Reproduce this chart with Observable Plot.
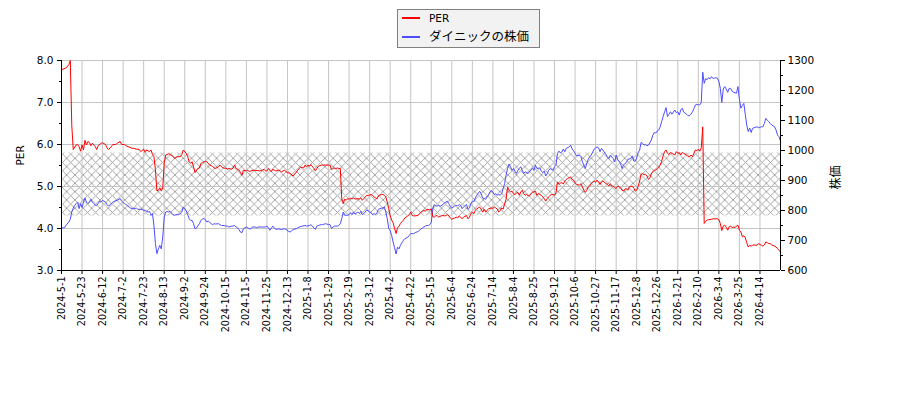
<!DOCTYPE html>
<html><head><meta charset="utf-8">
<script src="https://cdn.jsdelivr.net/npm/d3@7"></script>
<script src="https://cdn.jsdelivr.net/npm/@observablehq/plot@0.6"></script>
<style>
body{margin:0;background:#fff;}
#wrap{position:relative;width:900px;height:400px;font-family:'DejaVu Sans','Noto Sans CJK JP',sans-serif;}
#legend{position:absolute;left:397px;top:9px;width:143px;height:39px;box-sizing:border-box;border:1px solid #808080;background:#f2f2f2;}
#legend .sw{position:absolute;left:4px;width:18px;height:2px;}
#legend .tx{position:absolute;left:31px;height:16px;line-height:16px;white-space:nowrap;color:#000;}
</style></head>
<body><div id="wrap"></div>
<script>
// [trading-day index, value]
const perPoints = [[0,7.78],[3,7.82],[5,7.90],[6,8.00],[7,6.46],[8,5.88],[10,5.99],[11,6.00],[12,5.95],[13,5.84],[14,5.99],[15,5.87],[16,6.10],[17,5.99],[18,6.07],[19,6.05],[20,5.97],[21,6.03],[23,5.95],[24,5.88],[25,5.97],[27,6.03],[28,6.04],[30,6.00],[31,5.92],[32,5.88],[34,5.95],[35,6.00],[37,6.00],[38,6.03],[40,6.07],[41,6.00],[43,6.00],[44,5.97],[46,5.94],[48,5.91],[49,5.91],[51,5.89],[53,5.88],[54,5.83],[56,5.89],[57,5.81],[58,5.87],[60,5.83],[61,5.87],[62,5.76],[63,5.71],[64,5.40],[65,4.90],[66,4.91],[67,4.97],[68,4.89],[69,4.97],[70,5.55],[71,5.75],[73,5.78],[74,5.76],[76,5.72],[77,5.67],[79,5.71],[81,5.71],[82,5.76],[83,5.87],[85,5.79],[86,5.71],[87,5.59],[88,5.55],[89,5.59],[90,5.47],[91,5.33],[93,5.43],[94,5.44],[95,5.55],[96,5.57],[98,5.60],[99,5.59],[101,5.51],[103,5.48],[104,5.44],[105,5.43],[107,5.47],[108,5.51],[109,5.47],[111,5.43],[112,5.44],[113,5.41],[114,5.43],[116,5.41],[117,5.44],[118,5.51],[119,5.43],[121,5.39],[122,5.33],[123,5.27],[124,5.39],[126,5.37],[127,5.39],[128,5.35],[129,5.37],[131,5.39],[132,5.38],[134,5.38],[135,5.37],[137,5.39],[138,5.41],[139,5.37],[140,5.37],[141,5.43],[143,5.35],[144,5.41],[145,5.39],[146,5.37],[148,5.39],[149,5.37],[150,5.35],[152,5.39],[153,5.35],[154,5.33],[156,5.31],[157,5.27],[158,5.25],[159,5.31],[160,5.33],[161,5.39],[162,5.43],[163,5.46],[165,5.44],[166,5.51],[167,5.47],[168,5.51],[169,5.48],[170,5.52],[172,5.43],[173,5.37],[174,5.43],[175,5.48],[177,5.51],[178,5.51],[180,5.51],[182,5.51],[183,5.51],[184,5.40],[185,5.43],[186,5.44],[187,5.43],[188,5.44],[189,5.43],[190,5.43],[191,4.71],[192,4.59],[193,4.70],[194,4.67],[195,4.71],[196,4.70],[197,4.72],[198,4.70],[199,4.73],[200,4.70],[202,4.71],[203,4.70],[204,4.73],[205,4.67],[206,4.71],[207,4.75],[208,4.79],[209,4.78],[211,4.81],[212,4.79],[213,4.75],[214,4.73],[215,4.70],[216,4.78],[218,4.81],[219,4.81],[220,4.79],[221,4.75],[222,4.63],[223,4.47],[224,4.31],[225,4.20],[226,4.14],[227,4.00],[228,3.88],[229,4.02],[230,4.05],[231,4.12],[232,4.16],[233,4.20],[234,4.25],[236,4.30],[237,4.33],[238,4.39],[239,4.31],[240,4.30],[241,4.30],[243,4.31],[244,4.35],[245,4.39],[246,4.41],[247,4.43],[248,4.41],[249,4.46],[251,4.44],[252,4.47],[253,4.28],[254,4.27],[255,4.30],[256,4.31],[257,4.27],[258,4.29],[260,4.31],[261,4.30],[262,4.31],[263,4.33],[264,4.30],[265,4.25],[266,4.22],[268,4.25],[269,4.27],[270,4.25],[271,4.30],[272,4.27],[273,4.23],[274,4.27],[276,4.31],[277,4.23],[278,4.27],[279,4.35],[280,4.39],[281,4.35],[282,4.43],[283,4.47],[285,4.51],[286,4.46],[287,4.39],[288,4.46],[289,4.39],[290,4.43],[291,4.47],[293,4.49],[294,4.48],[295,4.51],[296,4.49],[297,4.46],[298,4.39],[299,4.43],[300,4.49],[301,4.46],[302,4.59],[303,4.70],[304,4.99],[305,4.91],[306,4.87],[307,4.89],[308,4.83],[309,4.81],[310,4.84],[311,4.86],[312,4.79],[313,4.87],[314,4.91],[315,4.83],[316,4.79],[317,4.81],[318,4.78],[319,4.78],[320,4.83],[321,4.86],[322,4.87],[323,4.89],[324,4.79],[325,4.83],[326,4.81],[327,4.79],[328,4.75],[329,4.71],[330,4.65],[331,4.71],[332,4.75],[333,4.79],[334,4.81],[335,4.81],[336,4.79],[337,4.85],[338,5.11],[339,5.05],[340,5.08],[341,5.09],[342,5.06],[343,5.13],[344,5.17],[345,5.19],[346,5.21],[347,5.23],[348,5.17],[349,5.15],[350,5.09],[351,5.05],[352,5.04],[353,5.03],[354,5.07],[355,4.99],[356,4.91],[357,4.86],[358,4.91],[359,4.99],[360,5.01],[361,5.07],[362,5.10],[363,5.13],[364,5.10],[365,5.15],[366,5.11],[367,5.05],[368,5.11],[369,5.13],[371,5.07],[372,5.05],[373,5.01],[374,5.07],[375,5.01],[376,5.01],[377,4.97],[378,4.95],[379,5.01],[381,4.97],[382,4.91],[383,4.89],[384,4.94],[385,4.95],[386,4.91],[387,4.99],[388,5.00],[389,5.01],[390,4.96],[391,4.89],[392,4.91],[393,5.01],[394,5.13],[395,5.29],[396,5.31],[397,5.28],[398,5.29],[399,5.25],[400,5.17],[401,5.21],[402,5.30],[403,5.35],[404,5.39],[405,5.39],[406,5.43],[407,5.45],[408,5.51],[409,5.60],[410,5.73],[411,5.83],[412,5.87],[413,5.79],[414,5.76],[415,5.81],[416,5.79],[418,5.75],[419,5.83],[420,5.79],[421,5.81],[422,5.75],[423,5.81],[424,5.79],[426,5.75],[427,5.71],[428,5.71],[429,5.75],[430,5.71],[431,5.79],[432,5.87],[433,5.85],[434,5.89],[435,5.84],[436,5.92],[437,6.42],[438,4.12],[439,4.17],[440,4.20],[441,4.21],[443,4.22],[444,4.23],[446,4.23],[447,4.23],[448,4.21],[449,4.12],[450,3.95],[451,4.06],[452,4.08],[453,4.03],[454,3.96],[455,4.04],[456,4.06],[457,4.02],[458,4.04],[459,4.02],[460,4.06],[461,4.08],[462,3.96],[463,3.92],[464,3.80],[465,3.83],[466,3.78],[467,3.66],[468,3.56],[469,3.60],[470,3.58],[471,3.60],[472,3.61],[474,3.60],[475,3.64],[477,3.60],[478,3.58],[479,3.61],[480,3.68],[481,3.66],[482,3.64],[483,3.64],[484,3.61],[486,3.58],[487,3.56],[488,3.52],[489,3.48],[490,3.44]];

const pricePoints = [[0,742],[2,742],[3,750],[5,762],[6,771],[7,795],[8,808],[9,817],[10,823],[11,828],[12,806],[13,823],[14,810],[15,828],[16,842],[17,828],[18,823],[19,828],[20,837],[21,828],[22,823],[23,817],[24,817],[25,823],[26,831],[27,828],[28,834],[30,828],[31,820],[32,815],[34,823],[35,828],[36,831],[38,834],[40,840],[41,831],[43,823],[44,820],[46,812],[47,808],[49,806],[51,808],[52,804],[54,804],[56,801],[57,801],[59,795],[60,797],[61,784],[62,790],[63,750],[64,690],[65,656],[66,672],[67,684],[68,672],[69,712],[70,778],[71,795],[72,797],[73,795],[74,797],[76,786],[77,784],[78,786],[80,786],[82,795],[83,812],[85,800],[86,786],[87,773],[88,767],[89,767],[90,756],[91,739],[92,742],[94,756],[95,767],[96,771],[97,773],[98,770],[99,762],[100,765],[102,756],[103,753],[104,756],[105,755],[107,756],[108,753],[109,750],[111,750],[112,748],[113,748],[114,745],[116,748],[117,748],[118,750],[119,745],[120,742],[121,736],[122,728],[123,726],[124,740],[125,742],[126,745],[128,739],[129,739],[130,745],[132,745],[133,742],[134,745],[136,745],[137,745],[139,745],[140,748],[141,742],[142,734],[144,748],[145,742],[146,737],[148,739],[149,737],[150,737],[152,739],[153,737],[155,730],[156,728],[157,734],[158,737],[160,739],[161,742],[162,745],[164,748],[166,750],[167,748],[169,750],[170,753],[172,742],[173,737],[174,748],[175,750],[177,753],[178,753],[180,756],[182,753],[183,753],[184,740],[185,745],[186,748],[188,748],[189,750],[190,756],[191,773],[192,795],[193,784],[194,784],[195,784],[196,786],[197,793],[198,786],[199,795],[200,788],[202,795],[203,790],[204,797],[205,786],[206,790],[207,795],[208,802],[210,795],[211,793],[212,786],[213,790],[214,786],[215,793],[216,804],[218,808],[219,808],[220,812],[221,795],[222,773],[223,740],[224,733],[225,717],[226,695],[227,676],[228,655],[229,678],[230,672],[231,684],[232,693],[233,700],[234,706],[236,711],[237,717],[238,723],[239,723],[240,723],[241,726],[243,730],[244,734],[245,739],[246,742],[247,745],[248,748],[249,750],[250,750],[251,753],[252,760],[253,805],[254,820],[255,815],[256,815],[257,817],[258,814],[260,820],[261,826],[262,828],[263,831],[264,823],[265,812],[266,808],[268,815],[269,817],[270,815],[271,820],[272,817],[273,806],[274,812],[276,820],[277,804],[278,808],[279,823],[280,831],[281,829],[282,842],[283,851],[285,864],[286,856],[287,842],[288,840],[289,837],[290,845],[291,851],[292,862],[293,866],[294,862],[295,853],[296,856],[297,851],[298,853],[299,851],[300,856],[301,873],[302,890],[303,918],[304,940],[305,955],[306,946],[307,934],[308,940],[310,923],[311,934],[312,940],[313,946],[314,934],[315,923],[316,929],[318,923],[319,931],[320,934],[321,942],[322,934],[323,951],[324,940],[326,942],[327,931],[328,927],[329,931],[330,915],[331,923],[332,934],[333,940],[335,934],[336,946],[337,951],[338,990],[339,998],[340,992],[341,995],[342,1005],[343,996],[344,1007],[346,1012],[347,1018],[348,1005],[349,999],[350,991],[351,982],[353,984],[354,979],[355,962],[356,951],[357,940],[358,957],[359,971],[360,979],[361,985],[363,1005],[364,1009],[365,1012],[366,1009],[367,996],[368,1007],[369,1001],[371,987],[372,979],[373,973],[374,984],[376,973],[377,962],[378,985],[379,970],[381,957],[382,940],[383,951],[384,957],[385,960],[386,971],[388,973],[389,982],[390,965],[391,964],[392,975],[393,993],[394,1001],[395,1027],[396,1024],[397,1018],[398,1020],[399,1016],[400,1018],[402,1035],[403,1051],[404,1060],[405,1058],[406,1065],[407,1068],[408,1079],[409,1096],[410,1113],[411,1129],[412,1143],[413,1113],[414,1121],[415,1129],[416,1121],[418,1135],[419,1126],[420,1129],[421,1118],[422,1135],[423,1141],[424,1128],[426,1121],[427,1116],[428,1116],[429,1121],[430,1129],[431,1140],[432,1152],[433,1154],[434,1152],[435,1152],[436,1160],[437,1261],[438,1224],[439,1240],[440,1236],[441,1243],[442,1239],[443,1246],[444,1240],[445,1241],[446,1243],[447,1241],[448,1230],[449,1207],[450,1160],[451,1205],[452,1213],[453,1205],[454,1194],[455,1207],[456,1207],[457,1198],[458,1194],[460,1191],[461,1213],[462,1170],[463,1141],[464,1150],[465,1157],[466,1120],[467,1085],[468,1063],[469,1075],[470,1060],[471,1074],[472,1076],[474,1079],[475,1076],[477,1079],[478,1079],[479,1090],[480,1107],[481,1101],[482,1096],[483,1090],[484,1085],[486,1079],[487,1068],[488,1051],[489,1046],[490,1031]];

const tickDays = [0,14,28,42,56,70,84,98,112,126,140,154,168,182,196,210,224,238,252,266,280,294,308,322,336,350,364,378,392,406,420,434,448,462,476];
const tickLabels = ["2024-5-1","2024-5-23","2024-6-12","2024-7-2","2024-7-23","2024-8-13","2024-9-2","2024-9-24","2024-10-15","2024-11-5","2024-11-25","2024-12-13","2025-1-8","2025-1-29","2025-2-19","2025-3-12","2025-4-2","2025-4-22","2025-5-15","2025-6-4","2025-6-24","2025-7-14","2025-8-4","2025-8-25","2025-9-12","2025-10-6","2025-10-27","2025-11-17","2025-12-8","2025-12-26","2026-1-21","2026-2-10","2026-3-4","2026-3-25","2026-4-14"];
const perTicks = [3,4,5,6,7,8];
const perMinorTicks = [3.5,4.5,5.5,6.5,7.5];
const priceTicks = [600,700,800,900,1000,1100,1200,1300];
const priceMinorTicks = [650,750,850,950,1050,1150,1250];
const bandRange = [4.3, 5.8];
const seriesNames = ["PER", "ダイニックの株価"];
const seriesColors = ["#ff0000", "#4d4dff"];

const perDomain = [3, 8];
const priceDomain = [600, 1300];
const toY = p => perDomain[0] + (p - priceDomain[0]) * (perDomain[1] - perDomain[0]) / (priceDomain[1] - priceDomain[0]);
const fromY = y => priceDomain[0] + (y - perDomain[0]) * (priceDomain[1] - priceDomain[0]) / (perDomain[1] - perDomain[0]);

const perData = perPoints.map(([i, v]) => ({i, v}));
const priceData = pricePoints.map(([i, v]) => ({i, v}));
const xDomain = [perPoints[0][0], perPoints[perPoints.length - 1][0]];
const labelOf = new Map(tickDays.map((d, k) => [d, tickLabels[k]]));
const bandData = xDomain.map(i => ({i}));

const font = "'DejaVu Sans','Noto Sans CJK JP',sans-serif";
const chart = Plot.plot({
  width: 900, height: 400,
  marginLeft: 61, marginRight: 120, marginTop: 60, marginBottom: 130,
  style: {fontFamily: font, fontSize: "10.5px", background: "white", color: "#000", overflow: "visible"},
  x: {type: "linear", domain: xDomain},
  y: {domain: perDomain},
  marks: [
    Plot.areaY(bandData, {x: "i", y1: bandRange[0], y2: bandRange[1], fill: "url(#xhatch)"}),
    Plot.gridX(tickDays, {stroke: "#c4c4c4", strokeOpacity: 1, strokeWidth: 1}),
    Plot.gridY(perTicks, {stroke: "#c4c4c4", strokeOpacity: 1, strokeWidth: 1}),
    Plot.lineY(priceData, {x: "i", y: d => toY(d.v), stroke: seriesColors[1], strokeWidth: 1}),
    Plot.lineY(perData, {x: "i", y: "v", stroke: seriesColors[0], strokeWidth: 1}),
    Plot.ruleX([xDomain[0]], {stroke: "#000", strokeWidth: 1}),
    Plot.ruleX([xDomain[1]], {stroke: "#000", strokeWidth: 1}),
    Plot.ruleY([perDomain[0]], {stroke: "#000", strokeWidth: 1}),
    Plot.axisY(perTicks, {anchor: "left", tickSize: 4, tickPadding: 4, tickFormat: d => d.toFixed(1), label: null, fontSize: 10.5}),
    Plot.axisY(perMinorTicks, {anchor: "left", tickSize: 2, tickFormat: () => "", label: null}),
    Plot.axisY(priceTicks.map(toY), {anchor: "right", tickSize: 4, tickPadding: 3, tickFormat: d => String(Math.round(fromY(d))), label: null, fontSize: 10.5}),
    Plot.axisY(priceMinorTicks.map(toY), {anchor: "right", tickSize: 2, tickFormat: () => "", label: null}),
    Plot.axisX(tickDays, {anchor: "bottom", tickSize: 4, tickPadding: 2, tickRotate: -90, tickFormat: d => labelOf.get(d), label: null, fontSize: 9.6}),
    Plot.text(["PER"], {frameAnchor: "left", dx: -41, rotate: -90, fontSize: 10.5}),
    Plot.text(["株価"], {frameAnchor: "right", dx: 56, rotate: -90, fontSize: 12})
  ]
});

const svg = d3.select(chart);
const defs = svg.insert("defs", ":first-child");
const s = 8.33;
defs.append("pattern").attr("id", "xhatch").attr("patternUnits", "userSpaceOnUse")
  .attr("width", s).attr("height", s)
  .append("path").attr("d", `M0,0L${s},${s}M${s},0L0,${s}`)
  .attr("stroke", "#9c9c9c").attr("stroke-width", 0.9).attr("fill", "none");

const wrap = document.getElementById("wrap");
wrap.appendChild(chart);

const legend = document.createElement("div");
legend.id = "legend";
seriesNames.forEach((name, k) => {
  const sw = document.createElement("div");
  sw.className = "sw";
  sw.style.top = (k === 0 ? 7 : 26) + "px";
  sw.style.background = seriesColors[k];
  const tx = document.createElement("div");
  tx.className = "tx";
  tx.style.top = (k === 0 ? 0 : 19) + "px";
  tx.style.fontSize = k === 0 ? "10.5px" : "12.5px";
  tx.textContent = name;
  legend.appendChild(sw);
  legend.appendChild(tx);
});
wrap.appendChild(legend);
</script>
</body></html>
